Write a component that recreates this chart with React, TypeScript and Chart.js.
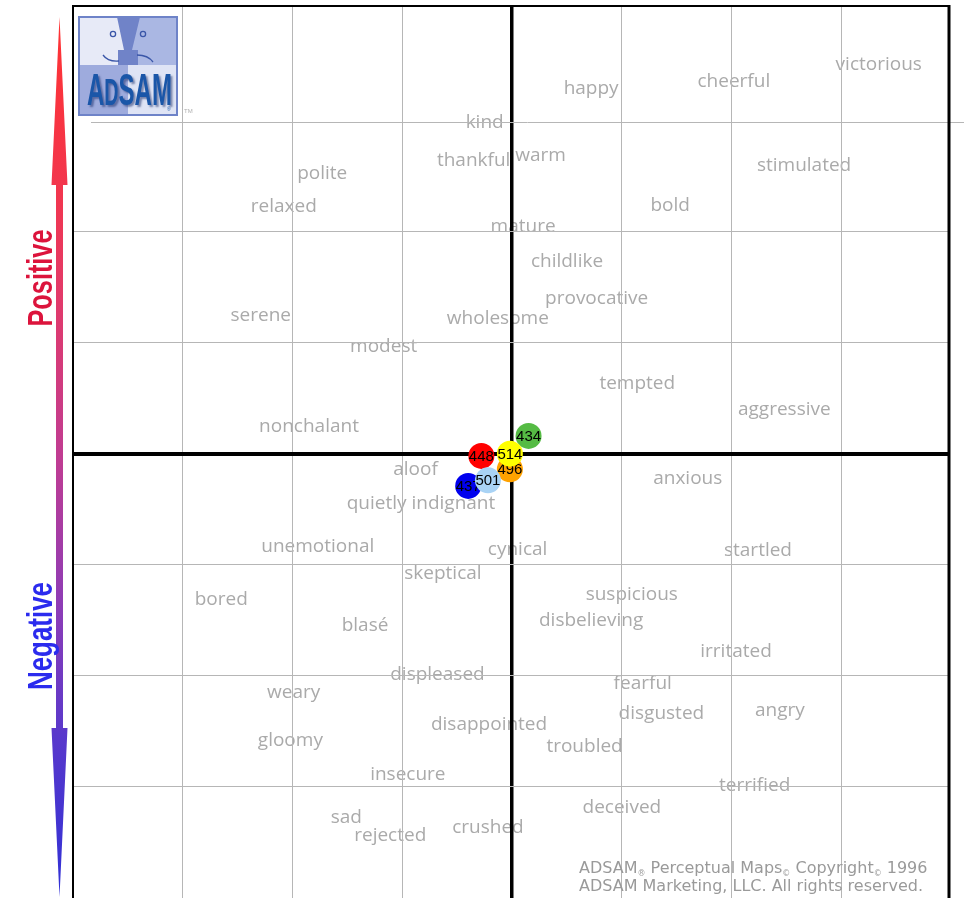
import React, { useEffect, useRef } from "react";
import { Chart, registerables } from "chart.js";
Chart.register(...registerables);

// ---------- data ----------
const wordLabels = [
  "happy", "cheerful", "victorious", "kind", "thankful", "warm", "stimulated",
  "polite", "relaxed", "bold", "mature", "childlike", "provocative", "serene",
  "wholesome", "modest", "tempted", "aggressive", "nonchalant", "aloof",
  "anxious", "quietly indignant", "unemotional", "cynical", "startled",
  "skeptical", "bored", "suspicious", "blasé", "disbelieving", "irritated",
  "displeased", "fearful", "weary", "disgusted", "angry", "disappointed",
  "gloomy", "troubled", "insecure", "terrified", "deceived", "sad",
  "rejected", "crushed",
];
const wordX = [
  0.72, 2.02, 3.34, -0.25, -0.35, 0.26, 2.66,
  -1.73, -2.08, 1.44, 0.10, 0.50, 0.77, -2.29,
  -0.13, -1.17, 1.14, 2.48, -1.85, -0.88,
  1.60, -0.83, -1.77, 0.05, 2.24,
  -0.63, -2.65, 1.09, -1.34, 0.72, 2.04,
  -0.68, 1.19, -1.99, 1.36, 2.44, -0.21,
  -2.02, 0.66, -0.95, 2.21, 1.00, -1.51,
  -1.11, -0.22,
];
const wordY = [
  3.29, 3.35, 3.50, 2.98, 2.64, 2.68, 2.59,
  2.52, 2.22, 2.23, 2.04, 1.73, 1.40, 1.24,
  1.22, 0.96, 0.63, 0.40, 0.24, -0.14,
  -0.22, -0.45, -0.84, -0.86, -0.87,
  -1.08, -1.31, -1.27, -1.55, -1.50, -1.78,
  -1.99, -2.07, -2.15, -2.34, -2.31, -2.44,
  -2.58, -2.64, -2.89, -2.99, -3.19, -3.28,
  -3.44, -3.37,
];

// bubbles, listed top-most first
const bubbleLabels = ["514", "501", "437", "496", "448", "434"];
const bubbleX = [-0.02, -0.22, -0.40, -0.02, -0.28, 0.15];
const bubbleY = [0.00, -0.24, -0.29, -0.14, -0.02, 0.16];
const bubbleColors = ["#ffff00", "#a9d3f5", "#0000ee", "#ffa200", "#ff0000", "#55bb44"];

const axisMin = -4;
const xMax = 3.98;
const yMax = 4.03;

const WORD_FONT = '19px "Open Sans", sans-serif';
const WORD_COLOR = "#aaaaaa";
const GRID_COLOR = "#b6b6b6";

function drawArrow(ctx: CanvasRenderingContext2D) {
  const cx = 59.5;
  const g = ctx.createLinearGradient(0, 17, 0, 897);
  g.addColorStop(0, "#ff3232");
  g.addColorStop(0.2, "#f2364e");
  g.addColorStop(0.32, "#e23a6a");
  g.addColorStop(0.5, "#c03c92");
  g.addColorStop(0.68, "#8a3cb8");
  g.addColorStop(0.82, "#5838cc");
  g.addColorStop(1, "#3030d6");
  ctx.save();
  ctx.fillStyle = g;
  ctx.beginPath();
  ctx.moveTo(cx, 17);
  ctx.lineTo(cx + 8, 185);
  ctx.lineTo(cx + 3.5, 185);
  ctx.lineTo(cx + 3.5, 728);
  ctx.lineTo(cx + 8, 728);
  ctx.lineTo(cx, 897);
  ctx.lineTo(cx - 8, 728);
  ctx.lineTo(cx - 3.5, 728);
  ctx.lineTo(cx - 3.5, 185);
  ctx.lineTo(cx - 8, 185);
  ctx.closePath();
  ctx.fill();
  ctx.restore();
}

function drawVerticalLabel(
  ctx: CanvasRenderingContext2D,
  text: string,
  baselineX: number,
  centerY: number,
  length: number,
  color: string
) {
  ctx.save();
  ctx.font = 'bold 35px "Liberation Sans Narrow", "Arial Narrow", Arial, sans-serif';
  const w = ctx.measureText(text).width;
  ctx.translate(baselineX, centerY);
  ctx.rotate(-Math.PI / 2);
  ctx.scale(length / w, 1);
  ctx.fillStyle = color;
  ctx.textAlign = "center";
  ctx.textBaseline = "alphabetic";
  ctx.fillText(text, 0, 0);
  ctx.restore();
}

function drawLogo(ctx: CanvasRenderingContext2D) {
  const x0 = 79, y0 = 17, w = 98, h = 98;
  const mid = 65;
  ctx.save();
  ctx.fillStyle = "#e7eaf7";
  ctx.fillRect(x0, y0, w, h);
  ctx.fillStyle = "#aab7e3";
  ctx.fillRect(128, y0, x0 + w - 128, mid - y0);
  ctx.fillStyle = "#9eabdd";
  ctx.fillRect(x0, mid, 128 - x0, y0 + h - mid);
  ctx.fillStyle = "#dfe4f5";
  ctx.fillRect(128, mid, x0 + w - 128, y0 + h - mid);
  ctx.fillStyle = "#7083c8";
  ctx.beginPath();
  ctx.moveTo(117, y0);
  ctx.lineTo(140, y0);
  ctx.lineTo(132, 50);
  ctx.lineTo(138, 50);
  ctx.lineTo(138, mid);
  ctx.lineTo(118, mid);
  ctx.lineTo(118, 50);
  ctx.lineTo(124, 50);
  ctx.closePath();
  ctx.fill();
  ctx.strokeStyle = "#3a56a8";
  ctx.lineWidth = 1.3;
  ctx.beginPath();
  ctx.arc(113, 34, 2.6, 0, Math.PI * 2);
  ctx.stroke();
  ctx.beginPath();
  ctx.arc(143, 34, 2.6, 0, Math.PI * 2);
  ctx.stroke();
  ctx.beginPath();
  ctx.moveTo(103, 55);
  ctx.quadraticCurveTo(108, 62, 119, 61);
  ctx.stroke();
  ctx.beginPath();
  ctx.moveTo(137, 55);
  ctx.quadraticCurveTo(148, 55, 153, 62);
  ctx.stroke();
  ctx.shadowColor = "rgba(30,50,110,0.55)";
  ctx.shadowOffsetX = 2;
  ctx.shadowOffsetY = 2;
  ctx.shadowBlur = 2;
  ctx.fillStyle = "#1a56a8";
  ctx.textBaseline = "alphabetic";
  const big = 'bold 44px Arial, "Liberation Sans", sans-serif';
  const small = 'bold 36px Arial, "Liberation Sans", sans-serif';
  ctx.font = big;
  const wA = ctx.measureText("A").width;
  const wSAM = ctx.measureText("SAM").width;
  ctx.font = small;
  const wD = ctx.measureText("D").width;
  const total = wA + wD + wSAM;
  const sx = 85 / total;
  ctx.translate(87, 105);
  ctx.scale(sx, 1);
  ctx.font = big;
  ctx.fillText("A", 0, 0);
  ctx.font = small;
  ctx.fillText("D", wA, 0);
  ctx.font = big;
  ctx.fillText("SAM", wA + wD, 0);
  ctx.restore();
  ctx.save();
  ctx.strokeStyle = "#6e83c8";
  ctx.lineWidth = 2;
  ctx.strokeRect(x0, y0, w, h);
  ctx.fillStyle = "#1a56a8";
  ctx.font = "5px Arial, sans-serif";
  ctx.fillText("®", 167, 111);
  ctx.fillStyle = "#b0b0b0";
  ctx.font = "6px Arial, sans-serif";
  ctx.fillText("TM", 184, 113);
  ctx.restore();
}

function drawCopyright(ctx: CanvasRenderingContext2D) {
  ctx.save();
  ctx.fillStyle = "#9a9a9a";
  ctx.textBaseline = "alphabetic";
  const font = '16px "DejaVu Sans", Verdana, sans-serif';
  const sub = '8px "DejaVu Sans", Verdana, sans-serif';
  ctx.font = font;
  const line2 = "ADSAM Marketing, LLC. All rights reserved.";
  const sx = 344 / ctx.measureText(line2).width;
  const segs: [string, boolean][] = [
    ["ADSAM", false], ["®", true], [" Perceptual Maps", false], ["©", true],
    [" Copyright", false], ["©", true], [" 1996", false],
  ];
  ctx.save();
  ctx.translate(579, 873);
  ctx.scale(sx, 1);
  let x = 0;
  for (const [t, isSub] of segs) {
    ctx.font = isSub ? sub : font;
    ctx.fillText(t, x, isSub ? 3 : 0);
    x += ctx.measureText(t).width;
  }
  ctx.restore();
  ctx.save();
  ctx.translate(579, 891);
  ctx.scale(sx, 1);
  ctx.font = font;
  ctx.fillText(line2, 0, 0);
  ctx.restore();
  ctx.restore();
}

export default function App() {
  const canvasRef = useRef<HTMLCanvasElement | null>(null);

  useEffect(() => {
    document.body.style.margin = "0";
    document.body.style.overflow = "hidden";
    const canvas = canvasRef.current;
    if (!canvas) return;

    const bubbleSets = bubbleLabels.map((lab, i) => ({
      label: lab,
      data: [{ x: bubbleX[i], y: bubbleY[i] }],
      backgroundColor: bubbleColors[i],
      borderWidth: 0,
      pointRadius: 13,
      pointHoverRadius: 13,
    }));
    const wordSet = {
      label: "words",
      data: wordLabels.map((_, i) => ({ x: wordX[i], y: wordY[i] })),
      pointRadius: 0,
      pointHoverRadius: 0,
      backgroundColor: "transparent",
    };
    const wordIndex = bubbleSets.length;

    const plugin = {
      id: "adsam",
      beforeDraw(chart: any) {
        const ctx = chart.ctx as CanvasRenderingContext2D;
        ctx.save();
        ctx.fillStyle = "#ffffff";
        ctx.fillRect(0, 0, chart.width, chart.height);
        const meta = chart.getDatasetMeta(wordIndex);
        ctx.font = WORD_FONT;
        ctx.fillStyle = WORD_COLOR;
        ctx.textAlign = "center";
        ctx.textBaseline = "middle";
        meta.data.forEach((el: any, i: number) => {
          ctx.fillText(wordLabels[i], el.x, el.y);
        });
        ctx.restore();
      },
      beforeDatasetsDraw(chart: any) {
        const ctx = chart.ctx as CanvasRenderingContext2D;
        const ys = chart.scales.y;
        const yLine = Math.round(ys.getPixelForValue(3)) + 2.5;
        ctx.save();
        ctx.strokeStyle = GRID_COLOR;
        ctx.lineWidth = 1;
        ctx.beginPath();
        ctx.moveTo(91, yLine);
        ctx.lineTo(964, yLine);
        ctx.stroke();
        const a = chart.chartArea;
        ctx.strokeStyle = "#000";
        ctx.lineWidth = 2;
        ctx.beginPath();
        ctx.moveTo(a.left, a.bottom + 2);
        ctx.lineTo(a.left, a.top);
        ctx.lineTo(a.right, a.top);
        ctx.stroke();
        ctx.lineWidth = 3;
        ctx.beginPath();
        ctx.moveTo(a.right, a.top - 1);
        ctx.lineTo(a.right, a.bottom + 2);
        ctx.stroke();
        ctx.restore();
      },
      afterDatasetDraw(chart: any, args: any) {
        if (args.index >= bubbleLabels.length) return;
        const ctx = chart.ctx as CanvasRenderingContext2D;
        const el = args.meta.data[0];
        ctx.save();
        ctx.font = '15px Arial, "Liberation Sans", sans-serif';
        ctx.fillStyle = "#000";
        ctx.textAlign = "center";
        ctx.textBaseline = "middle";
        ctx.fillText(bubbleLabels[args.index], el.x, el.y + 1);
        ctx.restore();
      },
      afterDraw(chart: any) {
        const ctx = chart.ctx as CanvasRenderingContext2D;
        drawArrow(ctx);
        drawVerticalLabel(ctx, "Positive", 52, 278, 97, "#dc143c");
        drawVerticalLabel(ctx, "Negative", 52, 636, 108, "#2b2bee");
        drawLogo(ctx);
        drawCopyright(ctx);
      },
    };

    const chart = new Chart(canvas, {
      type: "scatter",
      data: { datasets: [...bubbleSets, wordSet] as any },
      options: {
        animation: false,
        responsive: false,
        devicePixelRatio: 1,
        events: [],
        layout: { autoPadding: false, padding: { left: 73, top: 6, right: 15, bottom: 0 } },
        plugins: { legend: { display: false }, tooltip: { enabled: false } },
        scales: {
          x: {
            type: "linear",
            min: axisMin,
            max: xMax,
            border: { display: false },
            ticks: { display: false, stepSize: 1 },
            grid: {
              drawTicks: false,
              color: (c: any) =>
                c.tick && c.tick.value === 0 ? "#000" : c.tick && c.tick.value === axisMin ? "rgba(0,0,0,0)" : GRID_COLOR,
              lineWidth: (c: any) => (c.tick && c.tick.value === 0 ? 3.5 : 1),
            },
          },
          y: {
            type: "linear",
            min: axisMin,
            max: yMax,
            border: { display: false },
            ticks: { display: false, stepSize: 1 },
            grid: {
              drawTicks: false,
              color: (c: any) => {
                const v = c.tick ? c.tick.value : null;
                if (v === 0) return "#000";
                if (v === 3 || v === 4) return "rgba(0,0,0,0)";
                return GRID_COLOR;
              },
              lineWidth: (c: any) => (c.tick && c.tick.value === 0 ? 4 : 1),
            },
          },
        },
      },
      plugins: [plugin],
    });
    return () => chart.destroy();
  }, []);

  return (
    <div style={{ width: 964, height: 898, position: "relative" }}>
      <canvas ref={canvasRef} width={964} height={898} style={{ display: "block" }} />
    </div>
  );
}
